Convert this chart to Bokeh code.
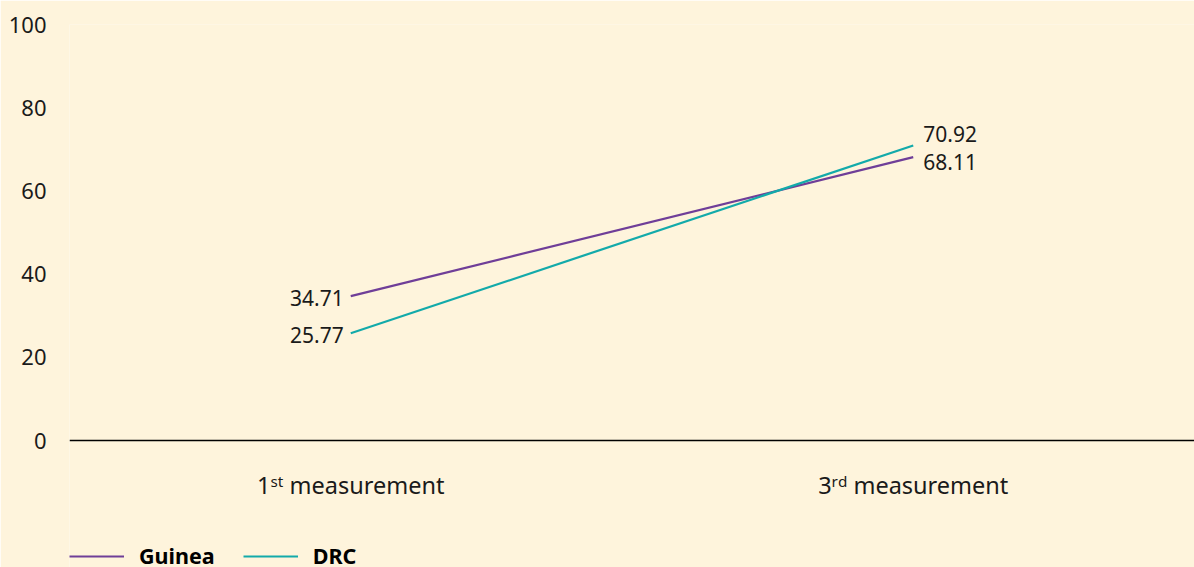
from bokeh.plotting import figure
from bokeh.models import FactorRange, Range1d, ColumnDataSource, Legend, LegendItem
from bokeh.embed import file_html
from bokeh.resources import INLINE
from bokeh.core.properties import value

# ---- data ----
categories = ["1ˢᵗ measurement", "3ʳᵈ measurement"]
series_names = ["Guinea", "DRC"]
guinea = [34.71, 68.11]
drc = [25.77, 70.92]
y_ticks = [0, 20, 40, 60, 80, 100]

# ---- style / layout ----
BG = "#FEF4DC"
colors = {"Guinea": "#6F3E98", "DRC": "#13AAAA"}
FONT = "Noto Sans"
TXT = "#1A1A1A"
PLOT_H = 416          # pixels for 0..100
FRAME_H = 543         # frame extends down to the bottom of the window (room for axis labels + legend)
y_start = -(FRAME_H - PLOT_H) / PLOT_H * 100

p = figure(frame_width=1125, frame_height=FRAME_H, x_range=FactorRange(*categories),
           y_range=Range1d(y_start, 100), output_backend="svg", toolbar_location=None,
           min_border_left=69, min_border_right=0, min_border_top=24,
           min_border_bottom=0)
p.background_fill_color = BG
p.border_fill_color = BG
p.outline_line_color = None
p.xgrid.grid_line_color = None
p.ygrid.grid_line_color = None
p.x_range.range_padding = 0

renderers = {}
for name, vals in zip(series_names, [guinea, drc]):
    src = ColumnDataSource(dict(x=categories, y=vals))
    r = p.line("x", "y", source=src, line_color=colors[name], line_width=2.2)
    renderers[name] = r

# data labels: left side right-aligned, right side left-aligned
label_dy = {"Guinea": [2, 5], "DRC": [2, -11]}
for name, vals in zip(series_names, [guinea, drc]):
    for i, side in enumerate(["left", "right"]):
        src = ColumnDataSource(dict(x=[categories[i]], y=[vals[i]],
                                    t=[f"{vals[i]:.2f}"]))
        p.text("x", "y", text="t", source=src,
               text_align="right" if side == "left" else "left",
               text_baseline="middle",
               x_offset=-7 if side == "left" else 10,
               y_offset=label_dy[name][i],
               text_font=value(FONT), text_font_size="21px", text_color=TXT)

# y axis
p.yaxis.ticker = y_ticks
p.yaxis.axis_line_color = None
p.yaxis.major_tick_line_color = None
p.yaxis.minor_tick_line_color = None
p.yaxis.major_label_standoff = 17
p.yaxis.major_label_text_font = FONT
p.yaxis.major_label_text_font_size = "22px"
p.yaxis.major_label_text_color = TXT

# x axis drawn at y = 0 inside the frame
p.xaxis.fixed_location = 0
p.xaxis.axis_line_color = "#000000"
p.xaxis.axis_line_width = 1.3
p.xaxis.major_tick_line_color = None
p.xaxis.minor_tick_line_color = None
p.xaxis.major_label_standoff = 22
p.xaxis.major_label_text_font = FONT
p.xaxis.major_label_text_font_size = "23.5px"
p.xaxis.major_label_text_color = TXT

legend = Legend(items=[LegendItem(label=n, renderers=[renderers[n]]) for n in series_names],
                location=(0, -3), orientation="horizontal",
                padding=0, margin=0, spacing=28, label_standoff=15,
                glyph_width=55, glyph_height=16, label_height=16,
                label_text_font=FONT, label_text_font_style="bold",
                label_text_font_size="21.5px", label_text_color="#000000",
                background_fill_alpha=0, border_line_color=None)
p.add_layout(legend, "center")

html = file_html(p, INLINE)
html = html.replace("<body>", '<body style="background-color:%s">' % BG, 1)
open("out.html", "w").write(html)
